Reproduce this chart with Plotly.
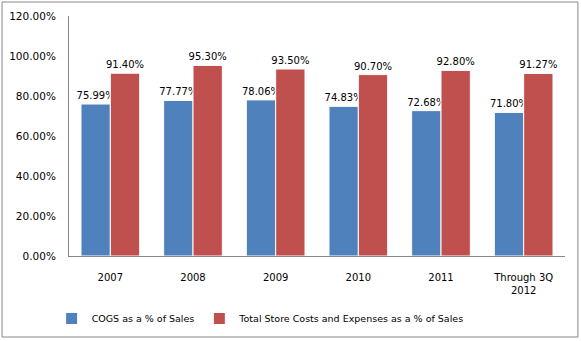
import plotly.graph_objects as go

categories = ["2007", "2008", "2009", "2010", "2011", "Through 3Q<br>2012"]
cogs_pct = [75.99, 77.77, 78.06, 74.83, 72.68, 71.80]
store_costs_pct = [91.40, 95.30, 93.50, 90.70, 92.80, 91.27]
series_names = ["COGS as a % of Sales", "Total Store Costs and Expenses as a % of Sales"]
y_ticks = [0, 0.2, 0.4, 0.6, 0.8, 1.0, 1.2]

FONT = "DejaVu Sans"

fig = go.Figure()
for name, vals, color in [
    (series_names[0], cogs_pct, "#4F81BD"),
    (series_names[1], store_costs_pct, "#C0504D"),
]:
    fig.add_trace(go.Bar(
        x=categories,
        y=[v / 100 for v in vals],
        name=name,
        marker=dict(color=color, line=dict(color="white", width=1)),
        texttemplate="%{y:.2%}",
        textposition="outside",
        textfont=dict(family=FONT, size=10, color="#000000"),
        constraintext="none",
        cliponaxis=False,
    ))

fig.update_layout(
    width=581, height=341,
    margin=dict(l=69, r=16, t=16, b=85, autoexpand=False),
    paper_bgcolor="white", plot_bgcolor="white",
    barmode="group", bargap=0.29, bargroupgap=0.0,
    font=dict(family=FONT, size=10, color="#000000"),
    showlegend=True,
    legend=dict(orientation="h", x=-0.035, y=-0.2, xanchor="left", yanchor="top",
                font=dict(family=FONT, size=9.5), itemwidth=30,
                traceorder="normal", bgcolor="rgba(0,0,0,0)"),
    xaxis=dict(showline=True, linecolor="#868686", linewidth=1, ticks="",
               showgrid=False, ticklabelstandoff=12, automargin=False,
               tickfont=dict(family=FONT, size=10)),
    yaxis=dict(range=[0, 1.2], tickvals=y_ticks, tickformat=".2%",
               showline=True, linecolor="#868686", linewidth=1,
               showgrid=False, zeroline=False, ticks="", ticklen=0,
               ticklabelstandoff=10, automargin=False,
               tickfont=dict(family=FONT, size=10.5)),
    shapes=[dict(type="rect", xref="paper", yref="paper",
                 x0=-0.135, x1=1.026, y0=-0.3375, y1=1.0583,
                 line=dict(color="#868686", width=1), fillcolor="rgba(0,0,0,0)")],
)

fig.write_html("out.html")
